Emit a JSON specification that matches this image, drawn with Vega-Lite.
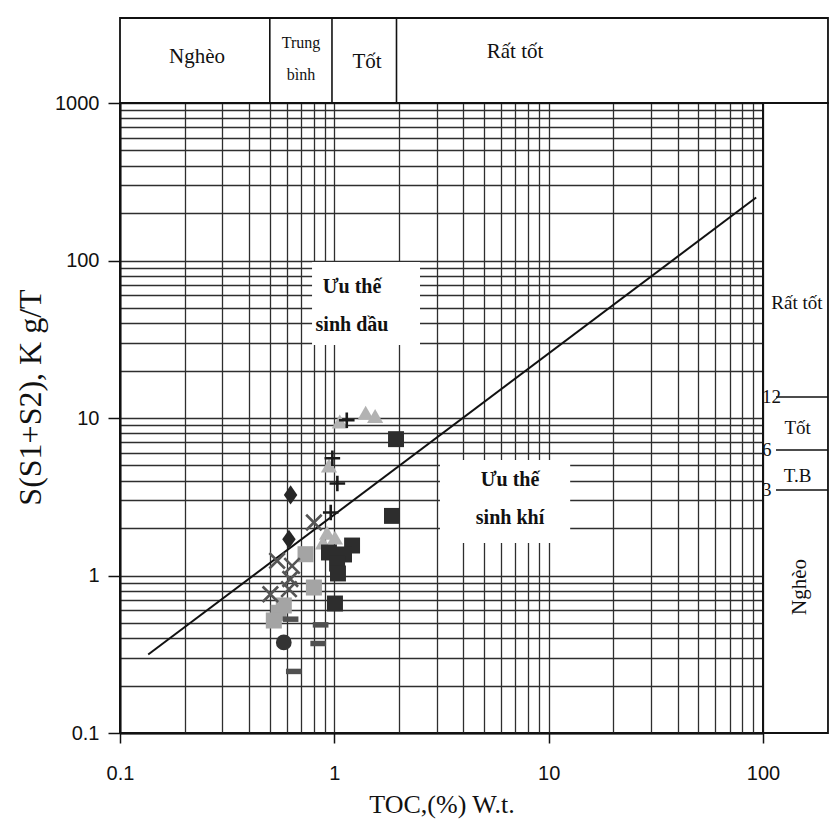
{
  "$schema": "https://vega.github.io/schema/vega-lite/v6.json",
  "width": 643,
  "height": 630,
  "autosize": {"type": "none"},
  "padding": {"left": 120, "top": 103, "right": 67, "bottom": 90},
  "background": "white",
  "config": {
    "view": {"stroke": "#111111", "strokeWidth": 2},
    "font": "Liberation Serif"
  },
  "datasets": {
    "boxes": [
      {"x": 0.787, "x2": 2.51, "y": 29.1, "y2": 97.8},
      {"x": 3.11, "x2": 12.6, "y": 1.61, "y2": 5.41}
    ],
    "frames": [
      {"x": 0.1, "x2": 201, "y": 1000, "y2": 3465},
      {"x": 100, "x2": 201, "y": 0.1, "y2": 1000}
    ],
    "topDividers": [
      {"x": 0.5, "y": 1000, "y2": 3465},
      {"x": 0.975, "y": 1000, "y2": 3465},
      {"x": 1.95, "y": 1000, "y2": 3465}
    ],
    "rightDividers": [
      {"label": "12", "x": 115, "x2": 201, "y": 13.6},
      {"label": "6", "x": 115, "x2": 201, "y": 6.27},
      {"label": "3", "x": 115, "x2": 201, "y": 3.49}
    ],
    "topTextBig": [
      {"text": "Nghèo", "x": 0.229, "y": 1959},
      {"text": "Tốt", "x": 1.42, "y": 1820},
      {"text": "Rất tốt", "x": 6.97, "y": 2109}
    ],
    "topTextSmall": [
      {"text": "Trung", "x": 0.699, "y": 2404},
      {"text": "bình", "x": 0.699, "y": 1506}
    ],
    "rightText": [
      {"text": "Rất tốt", "x": 144, "y": 53.7},
      {"text": "Tốt", "x": 145, "y": 8.64},
      {"text": "T.B", "x": 145, "y": 4.28}
    ],
    "rightRot": [
      {"text": "Nghèo", "x": 149, "y": 0.845}
    ],
    "plotText": [
      {"text": "Ưu thế", "x": 1.209, "y": 67.9},
      {"text": "sinh dầu", "x": 1.209, "y": 38.9},
      {"text": "Ưu thế", "x": 6.6, "y": 4.04},
      {"text": "sinh khí", "x": 6.6, "y": 2.32}
    ],
    "diag": [
      {"x": 0.1354, "y": 0.315},
      {"x": 92.9, "y": 251}
    ],
    "points": [
      {"type": "tri", "x": 1.06, "y": 9.5},
      {"type": "tri", "x": 1.40, "y": 10.8},
      {"type": "tri", "x": 1.55, "y": 10.3},
      {"type": "tri", "x": 0.944, "y": 5.0},
      {"type": "tri", "x": 0.924, "y": 1.87},
      {"type": "tri", "x": 1.007, "y": 1.74},
      {"type": "tri", "x": 0.885, "y": 1.62},
      {"type": "sqg", "x": 0.734, "y": 1.365},
      {"type": "sqg", "x": 0.803, "y": 0.839},
      {"type": "sqg", "x": 0.581, "y": 0.645},
      {"type": "sqg", "x": 0.55, "y": 0.58},
      {"type": "sqg", "x": 0.522, "y": 0.518},
      {"type": "sqb", "x": 1.94, "y": 7.34},
      {"type": "sqb", "x": 1.858, "y": 2.39},
      {"type": "sqb", "x": 1.21, "y": 1.55},
      {"type": "sqb", "x": 0.944, "y": 1.40},
      {"type": "sqb", "x": 1.11, "y": 1.36},
      {"type": "sqb", "x": 1.03, "y": 1.19},
      {"type": "sqb", "x": 1.04, "y": 1.03},
      {"type": "sqb", "x": 1.007, "y": 0.664},
      {"type": "dia", "x": 0.625, "y": 3.25},
      {"type": "dia", "x": 0.614, "y": 1.70},
      {"type": "cir", "x": 0.581, "y": 0.376},
      {"type": "dash", "x": 0.625, "y": 0.528},
      {"type": "dash", "x": 0.863, "y": 0.486},
      {"type": "dash", "x": 0.841, "y": 0.37},
      {"type": "dash", "x": 0.647, "y": 0.246},
      {"type": "plus", "x": 1.143, "y": 9.68},
      {"type": "plus", "x": 0.979, "y": 5.55},
      {"type": "plus", "x": 1.033, "y": 3.84},
      {"type": "plus", "x": 0.962, "y": 2.51},
      {"type": "x", "x": 0.803, "y": 2.17},
      {"type": "x", "x": 0.541, "y": 1.24},
      {"type": "x", "x": 0.635, "y": 1.15},
      {"type": "x", "x": 0.623, "y": 0.95},
      {"type": "x", "x": 0.614, "y": 0.82},
      {"type": "x", "x": 0.503, "y": 0.76}
    ]
  },
  "layer": [
    {
      "data": {"name": "boxes"},
      "mark": {"type": "rect", "fill": "white", "strokeWidth": 0},
      "encoding": {
        "x": {
          "field": "x", "type": "quantitative",
          "scale": {"type": "log", "domain": [0.1, 100], "nice": false},
          "axis": {
            "title": "TOC,(%) W.t.",
            "values": [0.1,0.2,0.3,0.4,0.5,0.6,0.7,0.8,0.9,1,2,3,4,5,6,7,8,9,10,20,30,40,50,60,70,80,90,100],
            "labelExpr": "abs(log(datum.value)/LN10 - round(log(datum.value)/LN10)) < 0.001 ? format(datum.value, '~g') : ''",
            "labelFont": "Liberation Sans",
            "labelFontSize": 20,
            "labelColor": "#111111",
            "labelPadding": 20,
            "labelOverlap": false,
            "labelFlush": false,
            "labelBound": false,
            "tickSize": 10,
            "tickColor": "#111111",
            "tickWidth": 1.5,
            "tickOpacity": {"condition": {"test": "abs(log(datum.value)/LN10 - round(log(datum.value)/LN10)) < 0.001", "value": 1}, "value": 0},
            "grid": true,
            "gridColor": "#2e2e2e",
            "gridWidth": 1.3,
            "gridOpacity": 1,
            "domainColor": "#111111",
            "domainWidth": 2,
            "titleFont": "Liberation Serif",
            "titleFontSize": 26,
            "titleFontWeight": "normal",
            "titleColor": "#111111",
            "titlePadding": 8
          }
        },
        "y": {
          "field": "y", "type": "quantitative",
          "scale": {"type": "log", "domain": [0.1, 1000], "nice": false},
          "axis": {
            "title": "S(S1+S2), K g/T",
            "values": [0.1,0.2,0.3,0.4,0.5,0.6,0.7,0.8,0.9,1,2,3,4,5,6,7,8,9,10,20,30,40,50,60,70,80,90,100,200,300,400,500,600,700,800,900,1000],
            "labelExpr": "abs(log(datum.value)/LN10 - round(log(datum.value)/LN10)) < 0.001 ? format(datum.value, '~g') : ''",
            "labelFont": "Liberation Sans",
            "labelFontSize": 20,
            "labelColor": "#111111",
            "labelPadding": 9,
            "labelOverlap": false,
            "labelFlush": false,
            "labelBound": false,
            "tickSize": 12,
            "tickColor": "#111111",
            "tickWidth": 1.5,
            "tickOpacity": {"condition": {"test": "abs(log(datum.value)/LN10 - round(log(datum.value)/LN10)) < 0.001", "value": 1}, "value": 0},
            "grid": true,
            "gridColor": "#2e2e2e",
            "gridWidth": 1.3,
            "gridOpacity": 1,
            "domainColor": "#111111",
            "domainWidth": 2,
            "titleFont": "Liberation Serif",
            "titleFontSize": 32,
            "titleFontWeight": "normal",
            "titleColor": "#111111",
            "titleX": -90,
            "titleY": 294,
            "titleAngle": 270,
            "titleAlign": "center",
            "titleBaseline": "middle"
          }
        },
        "x2": {"field": "x2"},
        "y2": {"field": "y2"}
      }
    },
    {
      "data": {"name": "frames"},
      "mark": {"type": "rect", "filled": false, "stroke": "#111111", "strokeWidth": 1.8},
      "encoding": {
        "x": {"field": "x", "type": "quantitative"},
        "x2": {"field": "x2"},
        "y": {"field": "y", "type": "quantitative"},
        "y2": {"field": "y2"}
      }
    },
    {
      "data": {"name": "topDividers"},
      "mark": {"type": "rule", "color": "#111111", "strokeWidth": 1.6},
      "encoding": {
        "x": {"field": "x", "type": "quantitative"},
        "y": {"field": "y", "type": "quantitative"},
        "y2": {"field": "y2"}
      }
    },
    {
      "data": {"name": "rightDividers"},
      "mark": {"type": "rule", "color": "#111111", "strokeWidth": 1.6},
      "encoding": {
        "x": {"field": "x", "type": "quantitative"},
        "x2": {"field": "x2"},
        "y": {"field": "y", "type": "quantitative"}
      }
    },
    {
      "data": {"name": "rightDividers"},
      "mark": {"type": "text", "align": "left", "baseline": "middle", "dx": -1, "font": "Liberation Serif", "fontSize": 19, "fill": "#111111"},
      "encoding": {
        "x": {"datum": 100, "type": "quantitative"},
        "y": {"field": "y", "type": "quantitative"},
        "text": {"field": "label"}
      }
    },
    {
      "data": {"name": "topTextBig"},
      "mark": {"type": "text", "align": "center", "baseline": "middle", "font": "Liberation Serif", "fontSize": 21, "fill": "#111111"},
      "encoding": {
        "x": {"field": "x", "type": "quantitative"},
        "y": {"field": "y", "type": "quantitative"},
        "text": {"field": "text"}
      }
    },
    {
      "data": {"name": "topTextSmall"},
      "mark": {"type": "text", "align": "center", "baseline": "middle", "font": "Liberation Serif", "fontSize": 16, "fill": "#111111"},
      "encoding": {
        "x": {"field": "x", "type": "quantitative"},
        "y": {"field": "y", "type": "quantitative"},
        "text": {"field": "text"}
      }
    },
    {
      "data": {"name": "rightText"},
      "mark": {"type": "text", "align": "center", "baseline": "middle", "font": "Liberation Serif", "fontSize": 19, "fill": "#111111"},
      "encoding": {
        "x": {"field": "x", "type": "quantitative"},
        "y": {"field": "y", "type": "quantitative"},
        "text": {"field": "text"}
      }
    },
    {
      "data": {"name": "rightRot"},
      "mark": {"type": "text", "align": "center", "baseline": "middle", "angle": 270, "font": "Liberation Serif", "fontSize": 21, "fill": "#111111"},
      "encoding": {
        "x": {"field": "x", "type": "quantitative"},
        "y": {"field": "y", "type": "quantitative"},
        "text": {"field": "text"}
      }
    },
    {
      "data": {"name": "plotText"},
      "mark": {"type": "text", "align": "center", "baseline": "middle", "font": "Liberation Serif", "fontSize": 20, "fontWeight": "bold", "fill": "#111111"},
      "encoding": {
        "x": {"field": "x", "type": "quantitative"},
        "y": {"field": "y", "type": "quantitative"},
        "text": {"field": "text"}
      }
    },
    {
      "data": {"name": "diag"},
      "mark": {"type": "line", "color": "#111111", "strokeWidth": 2},
      "encoding": {
        "x": {"field": "x", "type": "quantitative"},
        "y": {"field": "y", "type": "quantitative"}
      }
    },
    {
      "data": {"name": "points"},
      "transform": [{"filter": "datum.type != 'plus' && datum.type != 'x'"}],
      "mark": {"type": "point", "filled": true, "opacity": 1, "strokeWidth": 0},
      "encoding": {
        "x": {"field": "x", "type": "quantitative"},
        "y": {"field": "y", "type": "quantitative"},
        "shape": {
          "field": "type", "type": "nominal", "legend": null,
          "scale": {
            "domain": ["tri", "sqg", "sqb", "dia", "cir", "dash", "plus", "x"],
            "range": ["triangle-up", "square", "square", "M0,-1.2L0.85,0L0,1.2L-0.85,0Z", "circle", "M-1,-0.35H1V0.35H-1Z", "M-1,0H1M0,-1V1", "M-1,-1L1,1M-1,1L1,-1"]
          }
        },
        "color": {
          "field": "type", "type": "nominal", "legend": null,
          "scale": {
            "domain": ["tri", "sqg", "sqb", "dia", "cir", "dash", "plus", "x"],
            "range": ["#b2b2b2", "#a4a4a4", "#2d2d2d", "#262626", "#333333", "#505050", "#1a1a1a", "#555555"]
          }
        },
        "size": {
          "field": "type", "type": "nominal", "legend": null,
          "scale": {
            "domain": ["tri", "sqg", "sqb", "dia", "cir", "dash", "plus", "x"],
            "range": [260, 240, 250, 230, 170, 121, 260, 230]
          }
        }
      }
    },
    {
      "data": {"name": "points"},
      "transform": [{"filter": "datum.type == 'plus' || datum.type == 'x'"}],
      "mark": {"type": "point", "filled": false, "opacity": 1, "strokeWidth": 2.6},
      "encoding": {
        "x": {"field": "x", "type": "quantitative"},
        "y": {"field": "y", "type": "quantitative"},
        "shape": {"field": "type", "type": "nominal", "legend": null},
        "color": {"field": "type", "type": "nominal", "legend": null},
        "size": {"field": "type", "type": "nominal", "legend": null}
      }
    }
  ]
}
